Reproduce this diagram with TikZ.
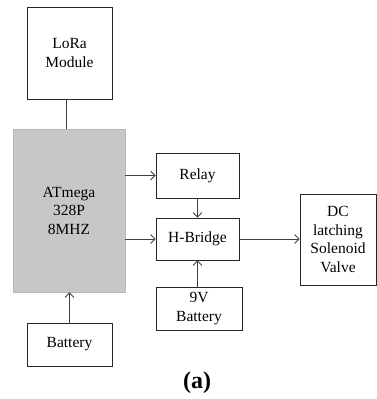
\documentclass[tikz,border=0pt]{standalone}
\usepackage{fontspec}
\setmainfont{Liberation Serif}
\usetikzlibrary{arrows.meta}
\begin{document}
\begin{tikzpicture}[x=1pt,y=-1pt,
  box/.style={draw=black!85, line width=0.8pt, fill=white, inner sep=0pt, align=center,
    font=\fontsize{15.5}{18.5}\selectfont},
  mcu/.style={box, draw=black!28, fill=black!22},
  conn/.style={draw=black!75, line width=0.8pt},
  arr/.style={conn, -{Straight Barb[length=4.5pt,width=9pt,line width=0.8pt]}}]
\useasboundingbox (0,0) rectangle (377,399);
\node[box, minimum width=85pt, minimum height=92pt] (lora) at (69.5,53) {LoRa\\Module};
\node[mcu, minimum width=112pt, minimum height=163pt] (atm) at (69,210.5) {ATmega\\328P\\8MHZ};
\node[box, minimum width=85pt, minimum height=43pt] (bat) at (69.5,344.5) {Battery};
\node[box, minimum width=83pt, minimum height=45pt] (relay) at (197.5,175.5) {Relay};
\node[box, minimum width=83pt, minimum height=42pt] (hb) at (197.5,239) {H-Bridge};
\node[box, minimum width=86pt, minimum height=43pt] (nine) at (199,308.5) {9V\\Battery};
\node[box, minimum width=76pt, minimum height=91pt] (dc) at (338,239.5) {DC\\latching\\Solenoid\\Valve};
\node[font=\fontsize{24}{28}\selectfont\bfseries] (lab) at (197,383) {(a)};
\draw[conn] ([xshift=-3pt]lora.south) -- ([xshift=-3pt]lora.south |- atm.north);
\draw[arr] (atm.east |- relay) -- (relay.west);
\draw[arr] (atm.east |- hb) -- (hb.west);
\draw[arr] (relay.south) -- (hb.north);
\draw[arr] (nine.north -| hb) -- (hb.south);
\draw[arr] (hb.east) -- (hb.east -| dc.west);
\draw[arr] (bat.north) -- (bat.north |- atm.south);
\end{tikzpicture}
\end{document}
